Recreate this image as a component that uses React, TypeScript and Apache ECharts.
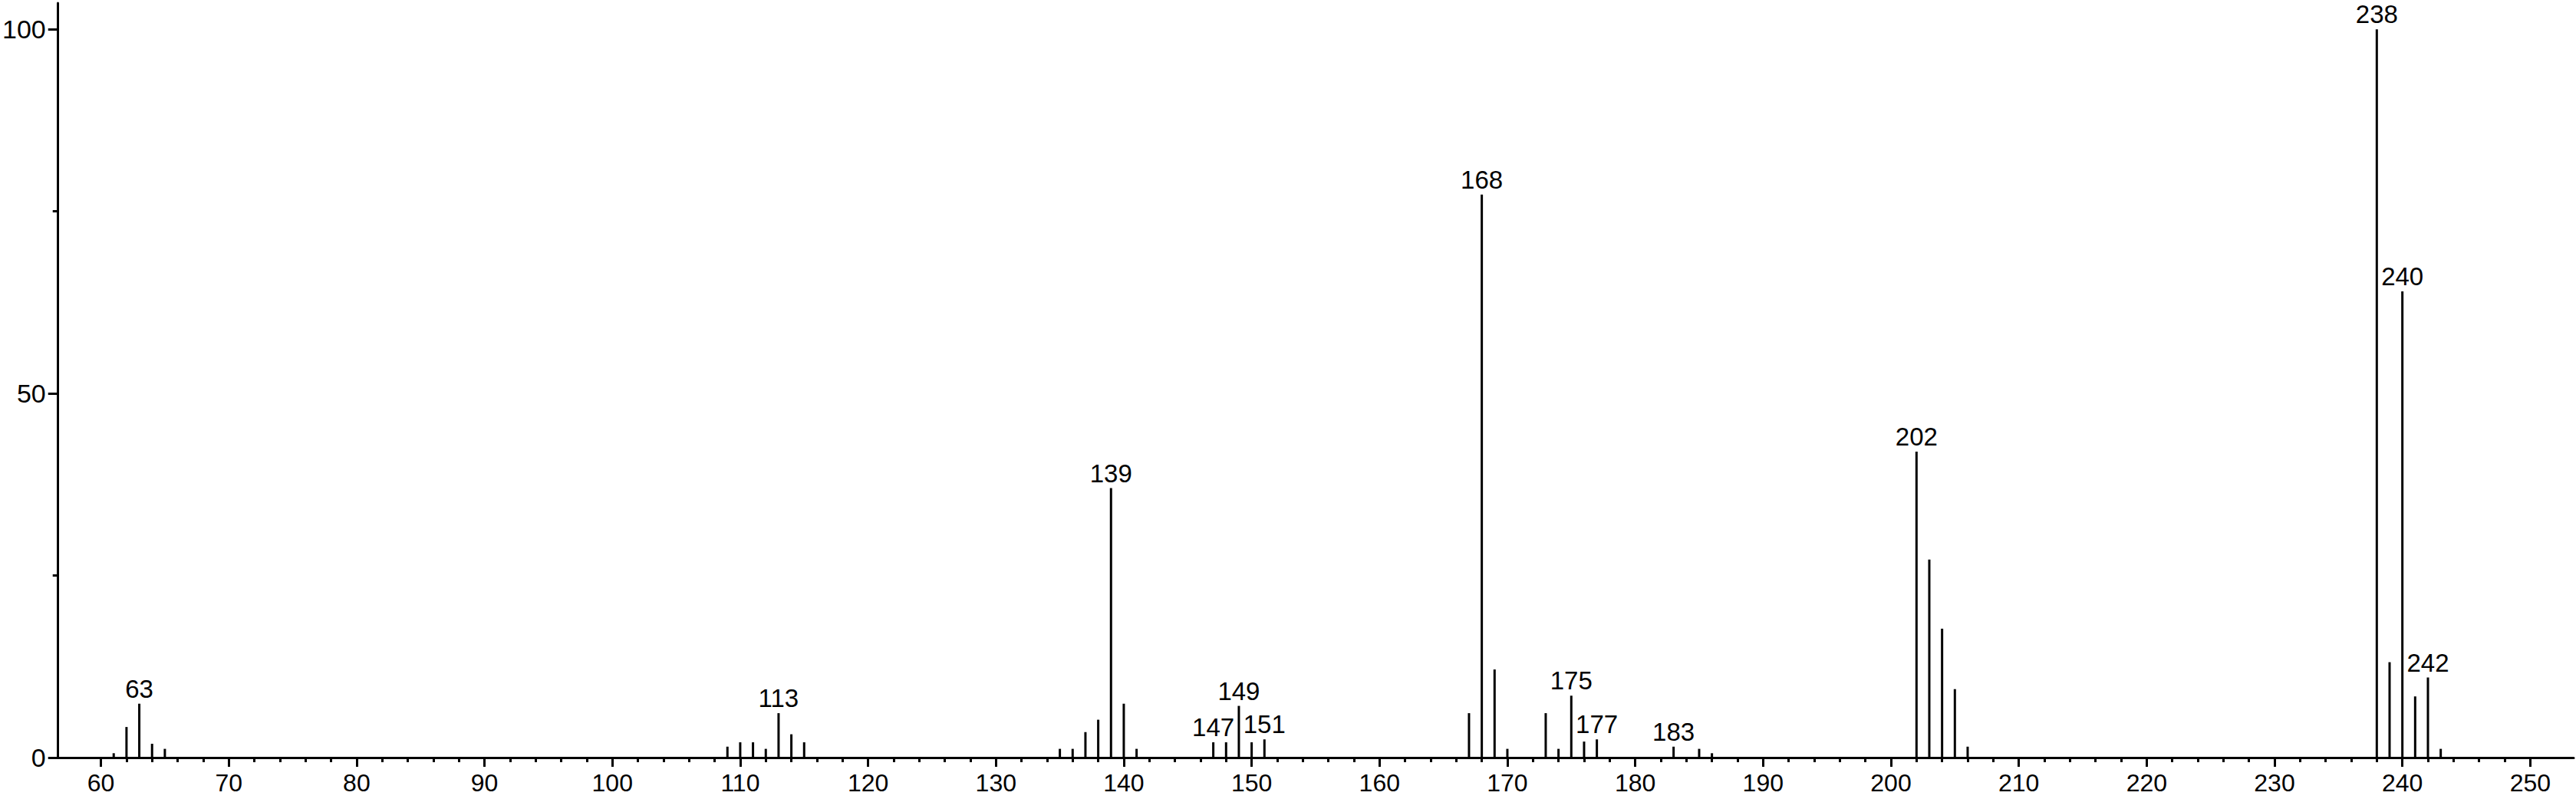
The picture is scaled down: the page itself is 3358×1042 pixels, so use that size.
import React, { useEffect, useRef } from "react";
import * as echarts from "echarts";

const mzValues = [
  61, 62, 63, 64, 65,
  109, 110, 111, 112, 113, 114, 115,
  135, 136, 137, 138, 139, 140, 141,
  147, 148, 149, 150, 151,
  167, 168, 169, 170,
  173, 174, 175, 176, 177,
  183, 185, 186,
  202, 203, 204, 205, 206,
  238, 239, 240, 241, 242, 243,
];
const intensities = [
  0.6, 4.2, 7.4, 1.9, 1.2,
  1.5, 2.1, 2.1, 1.2, 6.1, 3.2, 2.1,
  1.2, 1.2, 3.5, 5.2, 37.0, 7.4, 1.2,
  2.1, 2.1, 7.1, 2.1, 2.5,
  6.1, 77.3, 12.1, 1.2,
  6.1, 1.2, 8.5, 2.2, 2.5,
  1.5, 1.2, 0.6,
  42.0, 27.2, 17.7, 9.4, 1.5,
  100, 13.1, 64.0, 8.4, 11.0, 1.2,
];
const labeledPeaks = [63, 113, 139, 147, 149, 151, 168, 175, 177, 183, 202, 238, 240, 242];
const xMajorTicks = [60, 70, 80, 90, 100, 110, 120, 130, 140, 150, 160, 170, 180, 190, 200, 210, 220, 230, 240, 250];
const xMinorTicks = [
  62, 64, 66, 68, 72, 74, 76, 78, 82, 84, 86, 88, 92, 94, 96, 98,
  102, 104, 106, 108, 112, 114, 116, 118, 122, 124, 126, 128, 132, 134, 136, 138,
  142, 144, 146, 148, 152, 154, 156, 158, 162, 164, 166, 168, 172, 174, 176, 178,
  182, 184, 186, 188, 192, 194, 196, 198, 202, 204, 206, 208, 212, 214, 216, 218,
  222, 224, 226, 228, 232, 234, 236, 238, 242, 244, 246, 248,
];
const yMajorTicks = [0, 50, 100];
const yMinorTicks = [25, 75];

const X_MIN = 56.65;
const X_MAX = 253.4;
const Y_MAX = 103.6;
const FONT = "Liberation Sans, Arial, sans-serif";

export default function App() {
  const ref = useRef<HTMLDivElement>(null);
  useEffect(() => {
    document.body.style.margin = "0";
    const chart = echarts.init(ref.current as HTMLDivElement, null, { renderer: "svg" });
    const black = "#000";
    const data = mzValues.map((m, i) => ({
      value: [m, intensities[i]],
      label: { show: labeledPeaks.includes(m) },
    }));
    chart.setOption({
      animation: false,
      backgroundColor: "#fff",
      grid: { left: 69, right: 3, top: 4, bottom: 54, containLabel: false },
      xAxis: [
        {
          type: "value",
          min: X_MIN,
          max: X_MAX,
          position: "bottom",
          axisLine: { show: true, onZero: false, lineStyle: { color: black, width: 3 } },
          axisTick: { show: true, customValues: xMajorTicks, length: 12, lineStyle: { color: black, width: 3 } },
          axisLabel: { show: true, customValues: xMajorTicks, margin: 17, color: black, fontSize: 32, fontFamily: FONT },
          splitLine: { show: false },
        },
        {
          type: "value",
          min: X_MIN,
          max: X_MAX,
          position: "bottom",
          axisLine: { show: false },
          axisTick: { show: true, customValues: xMinorTicks, length: 6, lineStyle: { color: black, width: 3 } },
          axisLabel: { show: false },
          splitLine: { show: false },
        },
      ],
      yAxis: [
        {
          type: "value",
          min: 0,
          max: Y_MAX,
          position: "left",
          axisLine: { show: true, onZero: false, lineStyle: { color: black, width: 3 } },
          axisTick: { show: true, customValues: yMajorTicks, length: 13, lineStyle: { color: black, width: 3 } },
          axisLabel: { show: true, customValues: yMajorTicks, margin: 16, color: black, fontSize: 34, fontFamily: FONT },
          splitLine: { show: false },
        },
        {
          type: "value",
          min: 0,
          max: Y_MAX,
          position: "left",
          axisLine: { show: false },
          axisTick: { show: true, customValues: yMinorTicks, length: 7, lineStyle: { color: black, width: 3 } },
          axisLabel: { show: false },
          splitLine: { show: false },
        },
      ],
      series: [
        {
          type: "bar",
          xAxisIndex: 0,
          yAxisIndex: 0,
          barWidth: 3,
          itemStyle: { color: black },
          label: {
            position: "top",
            distance: 3,
            color: black,
            fontSize: 33,
            fontFamily: FONT,
            formatter: (p: any) => String(p.value[0]),
          },
          data,
        },
      ],
    });
    return () => chart.dispose();
  }, []);
  return <div ref={ref} style={{ width: 3358, height: 1042, background: "#fff" }} />;
}
